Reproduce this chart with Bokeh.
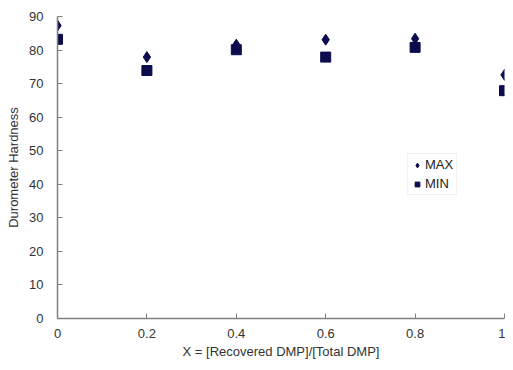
from bokeh.plotting import figure
from bokeh.models import Range1d, Legend, LegendItem, FixedTicker
from bokeh.embed import file_html
from bokeh.resources import INLINE

x_vals = [0, 0.2, 0.4, 0.6, 0.8, 1.0]
max_vals = [87.3, 77.9, 81.6, 83.1, 83.4, 72.6]
min_vals = [83.2, 73.9, 80.1, 77.9, 80.8, 67.9]
x_ticks = [0, 0.2, 0.4, 0.6, 0.8, 1]
y_ticks = [0, 10, 20, 30, 40, 50, 60, 70, 80, 90]

color = "#0b0b4d"
font = "Liberation Sans"
text_color = "#333333"
axis_color = "#808080"

p = figure(width=505, height=362, output_backend="svg", toolbar_location=None,
           x_range=Range1d(0, 1), y_range=Range1d(0, 90),
           min_border_left=57, min_border_right=1, min_border_top=16, min_border_bottom=44)
p.outline_line_color = None
p.xgrid.grid_line_color = None
p.ygrid.grid_line_color = None

r1 = p.scatter(x_vals, max_vals, marker="diamond", size=11, color=color)
r2 = p.scatter(x_vals, min_vals, marker="square", size=10, color=color)

for ax in (p.xaxis[0], p.yaxis[0]):
    ax.axis_line_color = axis_color
    ax.axis_line_width = 1.5
    ax.major_tick_line_color = axis_color
    ax.major_tick_in = 5
    ax.major_tick_out = 0
    ax.minor_tick_line_color = None
    ax.major_label_text_font = font
    ax.major_label_text_font_size = "13px"
    ax.major_label_text_color = text_color
    ax.axis_label_text_font = font
    ax.axis_label_text_font_size = "13px"
    ax.axis_label_text_font_style = "normal"
    ax.axis_label_text_color = text_color

p.xaxis.ticker = FixedTicker(ticks=x_ticks)
p.yaxis.ticker = FixedTicker(ticks=y_ticks)
p.xaxis.major_label_overrides = {0: "0", 1: "1"}
p.xaxis.axis_label = "X = [Recovered DMP]/[Total DMP]"
p.yaxis.axis_label = "Durometer Hardness"
p.xaxis.major_label_standoff = 10
p.xaxis.axis_label_standoff = 3
p.yaxis.major_label_standoff = 14
p.yaxis.axis_label_standoff = 5

legend = Legend(items=[LegendItem(label="MAX", renderers=[r1]),
                       LegendItem(label="MIN", renderers=[r2])],
                location=(350, 123))
legend.label_text_font = font
legend.label_text_font_size = "13px"
legend.label_text_color = "#222222"
legend.border_line_color = "#e6e6e6"
legend.background_fill_alpha = 0
legend.glyph_width = 12
legend.glyph_height = 14
legend.label_standoff = 2
legend.spacing = 4
legend.padding = 3
legend.margin = 0
legend.label_height = 14
p.add_layout(legend)

open("out.html", "w").write(file_html(p, INLINE))
